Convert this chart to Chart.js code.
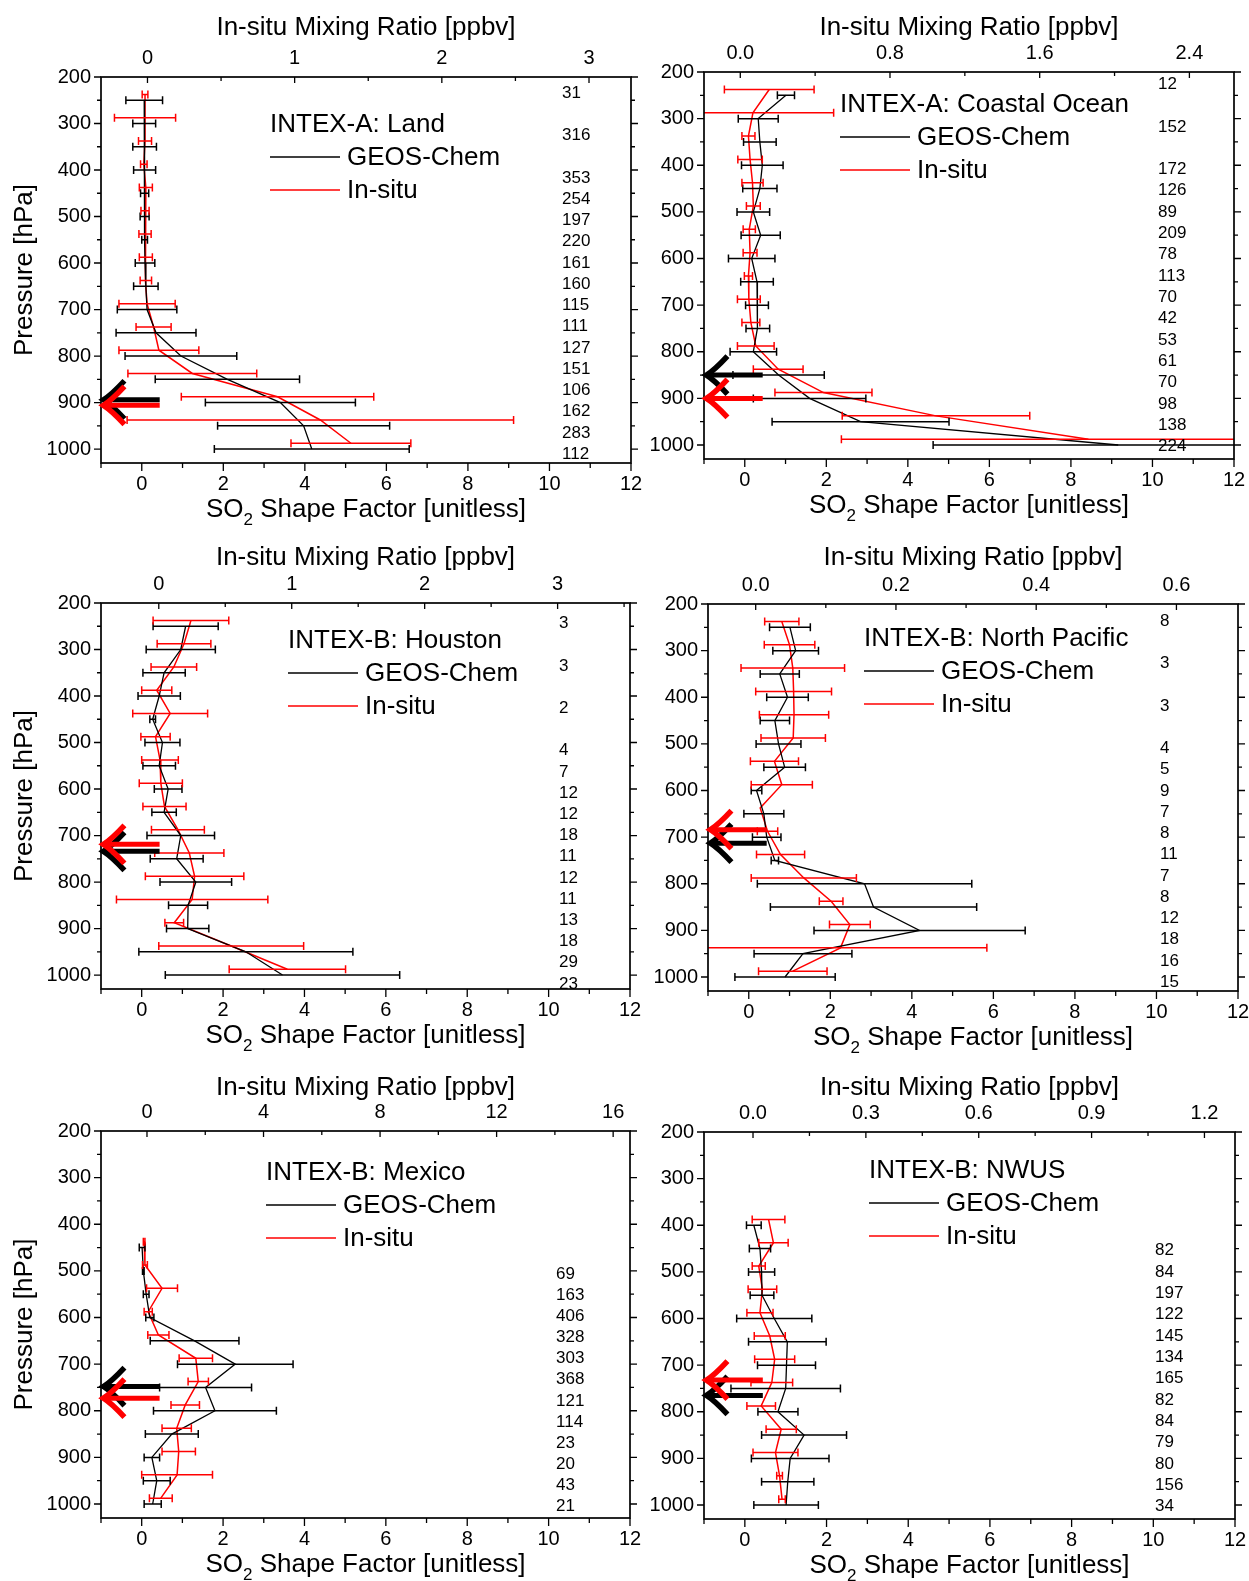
<!DOCTYPE html>
<html>
<head>
<meta charset="utf-8">
<script src="https://cdn.jsdelivr.net/npm/chart.js@4.4.0/dist/chart.umd.min.js"></script>
<style>
  body { margin: 0; background: #fff; width: 1249px; height: 1581px; position: relative; overflow: hidden; }
  canvas { position: absolute; }
</style>
</head>
<body>
<canvas id="land"></canvas>
<canvas id="coast"></canvas>
<canvas id="houston"></canvas>
<canvas id="npac"></canvas>
<canvas id="mexico"></canvas>
<canvas id="nwus"></canvas>
<script>
const FONT = '"Liberation Sans", Arial, sans-serif';
Chart.defaults.font.family = FONT;
Chart.defaults.color = '#000';

// pressure levels [hPa]
const levels16 = [250, 300, 350, 400, 450, 500, 550, 600, 650, 700, 750, 800, 850, 900, 950, 1000];
const levelsMexico = [450, 500, 550, 600, 650, 700, 750, 800, 850, 900, 950, 1000];
const levelsNwus = [400, 450, 500, 550, 600, 650, 700, 750, 800, 850, 900, 950, 1000];
const insituShift = -12.5; // in-situ profile is drawn a bit above the model one

const shapeTicks = [0, 2, 4, 6, 8, 10, 12];
const pressureTicks = [200, 300, 400, 500, 600, 700, 800, 900, 1000];

// INTEX-A: Land
const landGeos = [0.06, 0.06, 0.07, 0.07, 0.07, 0.07, 0.07, 0.08, 0.10, 0.13, 0.35, 0.96, 2.10, 3.40, 3.97, 4.17];
const landGeosStd = [0.45, 0.28, 0.29, 0.27, 0.10, 0.11, 0.07, 0.24, 0.30, 0.73, 0.98, 1.37, 1.77, 1.84, 2.11, 2.39];
const landInsitu = [0.08, 0.08, 0.08, 0.05, 0.10, 0.08, 0.08, 0.10, 0.10, 0.13, 0.29, 0.42, 1.24, 3.33, 4.38, 5.13];
const landInsituStd = [0.07, 0.75, 0.16, 0.08, 0.16, 0.10, 0.15, 0.16, 0.14, 0.69, 0.43, 0.98, 1.58, 2.36, 4.74, 1.47];
const landCounts = [31, null, 316, null, 353, 254, 197, 220, 161, 160, 115, 111, 127, 151, 106, 162, 283, 112];
const landTop = ['0', '1', '2', '3'];
const landMixCal = [0.14, 3.61];      // shape factor at 0 ppbv, shape units per ppbv
const landArrows = [894, 906];        // GEOS-Chem, in-situ [hPa]

// INTEX-A: Coastal Ocean
const coastGeos = [1.01, 0.33, 0.37, 0.43, 0.37, 0.21, 0.39, 0.17, 0.30, 0.30, 0.32, 0.21, 0.83, 1.59, 2.84, 9.16];
const coastGeosStd = [0.21, 0.49, 0.40, 0.51, 0.42, 0.40, 0.48, 0.57, 0.40, 0.28, 0.29, 0.57, 1.12, 1.38, 2.17, 4.54];
const coastInsitu = [0.60, 0.20, 0.09, 0.13, 0.19, 0.21, 0.11, 0.13, 0.09, 0.10, 0.15, 0.27, 0.82, 1.93, 4.69, 8.43];
const coastInsituStd = [1.10, 1.98, 0.16, 0.30, 0.26, 0.17, 0.15, 0.17, 0.10, 0.28, 0.22, 0.45, 0.61, 1.19, 2.30, 6.06];
const coastCounts = [12, null, 152, null, 172, 126, 89, 209, 78, 113, 70, 42, 53, 61, 70, 98, 138, 224];
const coastTop = ['0.0', '0.8', '1.6', '2.4'];
const coastMixCal = [-0.11, 4.59];
const coastArrows = [850, 900];

// INTEX-B: Houston
const houGeos = [1.08, 0.96, 0.55, 0.43, 0.27, 0.51, 0.43, 0.65, 0.55, 0.96, 0.86, 1.33, 1.14, 1.13, 2.56, 3.46];
const houGeosStd = [0.80, 0.85, 0.52, 0.52, 0.07, 0.43, 0.40, 0.34, 0.30, 0.83, 0.65, 0.88, 0.48, 0.52, 2.63, 2.88];
const houInsitu = [1.21, 1.04, 0.79, 0.37, 0.70, 0.34, 0.45, 0.47, 0.56, 0.89, 1.17, 1.30, 1.24, 0.80, 2.20, 3.58];
const houInsituStd = [0.93, 0.66, 0.56, 0.37, 0.92, 0.36, 0.45, 0.53, 0.53, 0.65, 0.85, 1.21, 1.86, 0.23, 1.78, 1.43];
const houCounts = [3, null, 3, null, 2, null, 4, 7, 12, 12, 18, 11, 12, 11, 13, 18, 29, 23];
const houTop = ['0', '1', '2', '3'];
const houMixCal = [0.42, 3.267];
const houArrows = [734, 719];

// INTEX-B: North Pacific
const npGeos = [1.01, 1.15, 0.76, 0.95, 0.64, 0.73, 0.88, 0.19, 0.37, 0.44, 0.64, 2.84, 3.06, 4.19, 1.33, 0.89];
const npGeosStd = [0.50, 0.56, 0.48, 0.51, 0.36, 0.55, 0.51, 0.13, 0.49, 0.35, 0.09, 2.63, 2.53, 2.59, 1.20, 1.23];
const npInsitu = [0.81, 1.00, 1.08, 1.10, 1.11, 1.09, 0.63, 0.81, 0.28, 0.46, 0.78, 1.35, 2.02, 2.48, 2.25, 1.08];
const npInsituStd = [0.42, 0.62, 1.27, 0.93, 0.85, 0.79, 0.59, 0.75, 0, 0.25, 0.59, 1.29, 0.29, 0.50, 3.59, 0.84];
const npCounts = [8, null, 3, null, 3, null, 4, 5, 9, 7, 8, 11, 7, 8, 12, 18, 16, 15];
const npTop = ['0.0', '0.2', '0.4', '0.6'];
const npMixCal = [0.17, 17.2];
const npArrows = [713, 684];

// INTEX-B: Mexico
const mexGeos = [0.01, 0.04, 0.11, 0.20, 1.30, 2.30, 1.57, 1.80, 0.74, 0.25, 0.37, 0.27];
const mexGeosStd = [0.07, 0.02, 0.07, 0.10, 1.09, 1.42, 1.13, 1.51, 0.65, 0.19, 0.33, 0.21];
const mexInsitu = [0.06, 0.08, 0.50, 0.16, 0.41, 1.33, 1.39, 1.07, 0.86, 0.91, 0.87, 0.47];
const mexInsituStd = [0.02, 0.06, 0.38, 0.10, 0.26, 0.41, 0.25, 0.35, 0.36, 0.41, 0.87, 0.28];
const mexCounts = [null, null, null, null, null, null, 69, 163, 406, 328, 303, 368, 121, 114, 23, 20, 43, 21];
const mexTop = ['0', '4', '8', '12', '16'];
const mexMixCal = [0.13, 0.716];
const mexArrows = [748, 773];

// INTEX-B: NWUS
const nwGeos = [0.22, 0.37, 0.41, 0.42, 0.72, 1.04, 1.02, 1.00, 0.81, 1.45, 1.11, 1.05, 1.01];
const nwGeosStd = [0.18, 0.26, 0.32, 0.29, 0.92, 0.95, 0.71, 1.34, 0.49, 1.04, 0.95, 0.64, 0.79];
const nwInsitu = [0.58, 0.70, 0.34, 0.43, 0.37, 0.61, 0.73, 0.66, 0.40, 0.89, 0.75, 0.85, 0.91];
const nwInsituStd = [0.40, 0.36, 0.16, 0.35, 0.32, 0.38, 0.49, 0.51, 0.35, 0.37, 0.55, 0.07, 0.08];
const nwCounts = [null, null, null, null, null, 82, 84, 197, 122, 145, 134, 165, 82, 84, 79, 80, 156, 34];
const nwTop = ['0.0', '0.3', '0.6', '0.9', '1.2'];
const nwMixCal = [0.20, 9.21];
const nwArrows = [765, 732];

const panels = [
  {id: 'land', title: 'INTEX-A: Land', levels: levels16, geos: landGeos, geosStd: landGeosStd,
   insitu: landInsitu, insituStd: landInsituStd, counts: landCounts, topTicks: landTop, cal: landMixCal, arrows: landArrows},
  {id: 'coast', title: 'INTEX-A: Coastal Ocean', levels: levels16, geos: coastGeos, geosStd: coastGeosStd,
   insitu: coastInsitu, insituStd: coastInsituStd, counts: coastCounts, topTicks: coastTop, cal: coastMixCal, arrows: coastArrows},
  {id: 'houston', title: 'INTEX-B: Houston', levels: levels16, geos: houGeos, geosStd: houGeosStd,
   insitu: houInsitu, insituStd: houInsituStd, counts: houCounts, topTicks: houTop, cal: houMixCal, arrows: houArrows},
  {id: 'npac', title: 'INTEX-B: North Pacific', levels: levels16, geos: npGeos, geosStd: npGeosStd,
   insitu: npInsitu, insituStd: npInsituStd, counts: npCounts, topTicks: npTop, cal: npMixCal, arrows: npArrows},
  {id: 'mexico', title: 'INTEX-B: Mexico', levels: levelsMexico, geos: mexGeos, geosStd: mexGeosStd,
   insitu: mexInsitu, insituStd: mexInsituStd, counts: mexCounts, topTicks: mexTop, cal: mexMixCal, arrows: mexArrows},
  {id: 'nwus', title: 'INTEX-B: NWUS', levels: levelsNwus, geos: nwGeos, geosStd: nwGeosStd,
   insitu: nwInsitu, insituStd: nwInsituStd, counts: nwCounts, topTicks: nwTop, cal: nwMixCal, arrows: nwArrows},
];

// page layout: canvas box and plot area, in page pixels
const boxes = {
  land:    {cx: 0,   cy: 0,    cw: 650, ch: 528, left: 101, top: 77,   right: 631,  bottom: 463,  titlePad: 12, legend: [169, 47], countRange: [231, 1008], countInset: 69, yTitle: true},
  coast:   {cx: 620, cy: 0,    cw: 629, ch: 528, left: 704, top: 72,   right: 1234, bottom: 459,  titlePad: 12, legend: [136, 32], countRange: [223, 1000], countInset: 76},
  houston: {cx: 0,   cy: 528,  cw: 650, ch: 528, left: 101, top: 603,  right: 630,  bottom: 989,  titlePad: 14, legend: [187, 37], countRange: [241, 1016], countInset: 71, yTitle: true},
  npac:    {cx: 620, cy: 528,  cw: 629, ch: 528, left: 708, top: 604,  right: 1238, bottom: 991,  titlePad: 14, legend: [156, 34], countRange: [233, 1008], countInset: 78},
  mexico:  {cx: 0,   cy: 1056, cw: 650, ch: 525, left: 101, top: 1131, right: 630,  bottom: 1518, titlePad: 16, legend: [165, 41], countRange: [232, 1002], countInset: 74, yTitle: true},
  nwus:    {cx: 620, cy: 1056, cw: 629, ch: 525, left: 704, top: 1132, right: 1235, bottom: 1519, titlePad: 16, legend: [165, 38], countRange: [223, 1000], countInset: 80},
};

const ARROW_TIP = -0.94, ARROW_TAIL = 0.44;

function drawArrow(ctx, xTip, xTail, py, color) {
  ctx.save();
  ctx.strokeStyle = color;
  ctx.lineWidth = 5;
  ctx.beginPath();
  ctx.moveTo(xTail, py);
  ctx.lineTo(xTip + 4, py);
  ctx.stroke();
  ctx.lineWidth = 5.5;
  ctx.beginPath();
  ctx.moveTo(xTip + 21, py - 19);
  ctx.quadraticCurveTo(xTip + 8, py - 5, xTip, py);
  ctx.quadraticCurveTo(xTip + 8, py + 5, xTip + 21, py + 19);
  ctx.stroke();
  ctx.restore();
}

const decor = {
  id: 'decor',
  afterDatasetsDraw(chart) {
    const p = panels.find(q => q.id === chart.canvas.id);
    const b = boxes[p.id];
    const {ctx, chartArea: a, scales: {x, y, x2}} = chart;

    // error bars
    ctx.save();
    ctx.beginPath();
    ctx.rect(a.left, a.top, a.right - a.left, a.bottom - a.top);
    ctx.clip();
    chart.data.datasets.forEach(ds => {
      ctx.strokeStyle = ds.borderColor;
      ctx.lineWidth = 1.5;
      ctx.beginPath();
      ds.data.forEach((pt, i) => {
        const e = ds.errors[i];
        if (!e) return;
        const py = y.getPixelForValue(pt.y);
        const x1 = x.getPixelForValue(pt.x - e), xr = x.getPixelForValue(pt.x + e);
        ctx.moveTo(x1, py); ctx.lineTo(xr, py);
        ctx.moveTo(x1, py - 4); ctx.lineTo(x1, py + 4);
        ctx.moveTo(xr, py - 4); ctx.lineTo(xr, py + 4);
      });
      ctx.stroke();
    });
    ctx.restore();

    // frame and tick marks
    ctx.save();
    ctx.strokeStyle = '#000';
    ctx.lineWidth = 1.7;
    ctx.strokeRect(a.left, a.top, a.right - a.left, a.bottom - a.top);
    ctx.lineWidth = 1.3;
    ctx.beginPath();
    for (let v = 200; v <= 1000; v += 50) {
      const py = y.getPixelForValue(v);
      const len = v % 100 === 0 ? 7 : 4;
      ctx.moveTo(a.left - len, py); ctx.lineTo(a.left, py);
      ctx.moveTo(a.right, py); ctx.lineTo(a.right + len, py);
    }
    for (let v = -1; v <= 12; v++) {
      const px = x.getPixelForValue(v);
      const len = v >= 0 && v % 2 === 0 ? 8 : 5;
      ctx.moveTo(px, a.bottom); ctx.lineTo(px, a.bottom + len);
    }
    const tv = p.topTicks.map(Number);
    const half = (tv[1] - tv[0]) / 2;
    for (let k = -2; k < 40; k++) {
      const v = tv[0] + k * half;
      if (v < x2.min) continue;
      if (v > x2.max) break;
      const px = x2.getPixelForValue(v);
      ctx.moveTo(px, a.top); ctx.lineTo(px, a.top + (k % 2 === 0 ? 6 : 4));
    }
    ctx.stroke();
    ctx.restore();

    // arrows
    const xt = x.getPixelForValue(ARROW_TIP), xl = x.getPixelForValue(ARROW_TAIL);
    drawArrow(ctx, xt, xl, y.getPixelForValue(p.arrows[0]), '#000');
    drawArrow(ctx, xt, xl, y.getPixelForValue(p.arrows[1]), '#ff0000');

    ctx.save();
    ctx.fillStyle = '#000';
    ctx.textBaseline = 'middle';
    ctx.textAlign = 'left';

    // number of samples
    ctx.font = '17px ' + FONT;
    const [c0, c1] = b.countRange;
    const n = p.counts.length;
    p.counts.forEach((c, i) => {
      if (c == null) return;
      const pr = c0 + (c1 - c0) * i / (n - 1);
      ctx.fillText(String(c), a.right - b.countInset, y.getPixelForValue(pr) + 1.5);
    });

    // legend
    ctx.font = '26px ' + FONT;
    const lx = a.left + b.legend[0], ly = a.top + b.legend[1];
    ctx.fillText(p.title, lx, ly + 1);
    chart.data.datasets.forEach((ds, k) => {
      const yy = ly + 33 * (k + 1);
      ctx.strokeStyle = ds.borderColor;
      ctx.lineWidth = 1.5;
      ctx.beginPath();
      ctx.moveTo(lx, yy); ctx.lineTo(lx + 70, yy);
      ctx.stroke();
      ctx.fillText(ds.label, lx + 77, yy + 1);
    });

    // bottom axis title with subscript
    ctx.textBaseline = 'alphabetic';
    const f1 = '26px ' + FONT, f2 = '17px ' + FONT;
    const rest = ' Shape Factor [unitless]';
    ctx.font = f1;
    const w1 = ctx.measureText('SO').width, w3 = ctx.measureText(rest).width;
    ctx.font = f2;
    const w2 = ctx.measureText('2').width;
    let x0 = (a.left + a.right) / 2 - (w1 + w2 + w3) / 2;
    const base = a.bottom + 54;
    ctx.font = f1;
    ctx.fillText('SO', x0, base);
    ctx.font = f2;
    ctx.fillText('2', x0 + w1, base + 8);
    ctx.font = f1;
    ctx.fillText(rest, x0 + w1 + w2, base);
    ctx.restore();
  }
};

panels.forEach(p => {
  const b = boxes[p.id];
  const cv = document.getElementById(p.id);
  cv.width = b.cw; cv.height = b.ch;
  cv.style.left = b.cx + 'px'; cv.style.top = b.cy + 'px';
  cv.style.width = b.cw + 'px'; cv.style.height = b.ch + 'px';

  const [off, k] = p.cal;
  new Chart(cv, {
    type: 'scatter',
    data: {
      datasets: [
        {label: 'GEOS-Chem', data: p.levels.map((lev, i) => ({x: p.geos[i], y: lev})),
         errors: p.geosStd, borderColor: '#000000', borderWidth: 1.3, pointRadius: 0, showLine: true, clip: 0},
        {label: 'In-situ', data: p.levels.map((lev, i) => ({x: p.insitu[i], y: lev + insituShift})),
         errors: p.insituStd, borderColor: '#ff0000', borderWidth: 1.5, pointRadius: 0, showLine: true, clip: 0}
      ]
    },
    options: {
      responsive: false,
      animation: false,
      events: [],
      layout: {padding: {left: 0, top: 0, bottom: 0, right: b.cx + b.cw - b.right}},
      plugins: {legend: {display: false}, tooltip: {enabled: false}},
      scales: {
        x: {
          type: 'linear', position: 'bottom', min: -1, max: 12,
          afterBuildTicks: s => { s.ticks = shapeTicks.map(v => ({value: v})); },
          afterFit: s => { s.height = b.cy + b.ch - b.bottom; s.paddingLeft = 0; s.paddingRight = 0; },
          grid: {display: false, drawTicks: false},
          border: {display: false},
          ticks: {font: {size: 20}, padding: 9, maxRotation: 0, autoSkip: false, callback: v => String(v)}
        },
        x2: {
          type: 'linear', position: 'top', axis: 'x',
          min: (-1 - off) / k, max: (12 - off) / k,
          afterBuildTicks: s => { s.ticks = p.topTicks.map(t => ({value: Number(t)})); },
          afterFit: s => { s.height = b.top - b.cy; s.paddingLeft = 0; s.paddingRight = 0; },
          grid: {display: false, drawTicks: false},
          border: {display: false},
          ticks: {font: {size: 20}, padding: 7, maxRotation: 0, autoSkip: false, callback: (v, i) => p.topTicks[i]},
          title: {display: true, text: 'In-situ Mixing Ratio [ppbv]', font: {size: 26}, padding: {top: b.titlePad, bottom: 0}}
        },
        y: {
          type: 'linear', reverse: true, min: 200, max: 1030,
          afterBuildTicks: s => { s.ticks = pressureTicks.map(v => ({value: v})); },
          afterFit: s => { s.width = b.left - b.cx; s.paddingTop = 0; s.paddingBottom = 0; },
          grid: {display: false, drawTicks: false},
          border: {display: false},
          ticks: {font: {size: 20}, padding: 10, autoSkip: false, callback: v => String(v)},
          title: {display: !!b.yTitle, text: 'Pressure [hPa]', font: {size: 26}, padding: {top: 9, bottom: 0}}
        }
      }
    },
    plugins: [decor]
  });
});
</script>
</body>
</html>
